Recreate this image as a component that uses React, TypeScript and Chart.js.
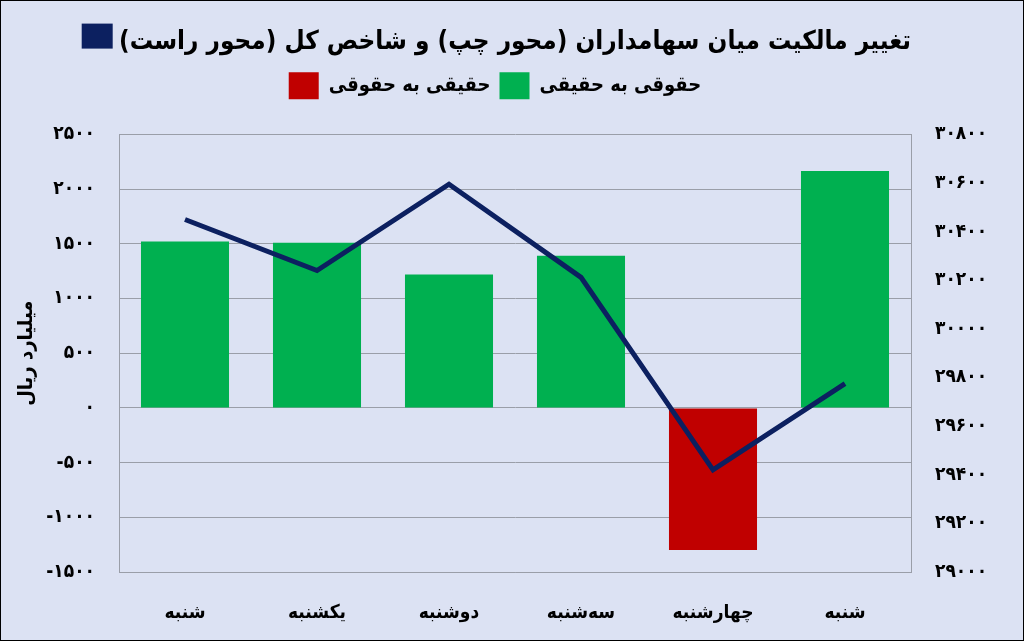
import React, { useEffect, useRef } from "react";
import { Chart, registerables } from "chart.js";

Chart.register(...registerables);

const days = ["شنبه", "یکشنبه", "دوشنبه", "سه‌شنبه", "چهارشنبه", "شنبه"];
// حقوقی به حقیقی (green) and حقیقی به حقوقی (red), billion rials
const legalToReal = [1520, 1510, 1220, 1390, null, 2165];
const realToLegal = [null, null, null, null, -1300, null];
// شاخص کل
const indexValues = [304500, 302400, 305950, 302120, 294200, 297750];

const leftTickLabels = ["-۱۵۰۰", "-۱۰۰۰", "-۵۰۰", "۰", "۵۰۰", "۱۰۰۰", "۱۵۰۰", "۲۰۰۰", "۲۵۰۰"];
const rightTickLabels = [
  "۲۹۰۰۰۰", "۲۹۲۰۰۰", "۲۹۴۰۰۰", "۲۹۶۰۰۰", "۲۹۸۰۰۰",
  "۳۰۰۰۰۰", "۳۰۲۰۰۰", "۳۰۴۰۰۰", "۳۰۶۰۰۰", "۳۰۸۰۰۰",
];

const titleText = "تغییر مالکیت میان سهامداران (محور چپ) و شاخص کل (محور راست)";
const FONT = "'DejaVu Sans Condensed', 'DejaVu Sans', sans-serif";
const NAVY = "#0c2060";
const GRID = "#9a9ea8";
const TITLE_SIZE = 26;

// draws the navy legend square next to the title, as in the original
const titleBoxPlugin = {
  id: "titleBox",
  afterDraw(chart: any) {
    const t = chart.titleBlock;
    if (!t) return;
    const ctx = chart.ctx;
    ctx.save();
    ctx.font = `bold ${TITLE_SIZE}px ${FONT}`;
    const w = ctx.measureText(titleText).width;
    const cx = t.left + t.width / 2;
    const cy = t.top + 26 + (TITLE_SIZE * 1.2) / 2;
    ctx.fillStyle = NAVY;
    ctx.fillRect(cx - w / 2 - 35, cy - 19, 31, 25);
    ctx.restore();
  },
};

export default function App() {
  const canvasRef = useRef<HTMLCanvasElement | null>(null);
  const chartRef = useRef<Chart | null>(null);

  useEffect(() => {
    document.body.style.margin = "0";
    if (!canvasRef.current) return;
    if (chartRef.current) chartRef.current.destroy();
    const ctx = canvasRef.current.getContext("2d");
    if (!ctx) return;

    chartRef.current = new Chart(ctx, {
      type: "bar",
      data: {
        labels: days,
        datasets: [
          {
            type: "line",
            label: titleText,
            data: indexValues,
            yAxisID: "y1",
            borderColor: NAVY,
            backgroundColor: NAVY,
            borderWidth: 5,
            pointRadius: 0,
            tension: 0,
          } as any,
          {
            label: "حقوقی به حقیقی",
            data: legalToReal,
            yAxisID: "y",
            backgroundColor: "#00b050",
            categoryPercentage: 0.667,
            barPercentage: 1,
          },
          {
            label: "حقیقی به حقوقی",
            data: realToLegal,
            yAxisID: "y",
            backgroundColor: "#c00000",
            categoryPercentage: 0.667,
            barPercentage: 1,
          },
        ],
      },
      plugins: [titleBoxPlugin],
      options: {
        animation: false,
        responsive: true,
        maintainAspectRatio: false,
        layout: { padding: { top: 0, right: 34, bottom: 0, left: 0 } },
        plugins: {
          title: {
            display: true,
            text: titleText,
            color: "#000",
            fullSize: false,
            font: { family: FONT, size: TITLE_SIZE, weight: "bold" },
            padding: { top: 26, bottom: 5 },
          },
          // empty block under the legend, keeps the gap above the plot
          subtitle: {
            display: true,
            text: " ",
            weight: 500,
            font: { size: 1 },
            padding: { top: 0, bottom: 24 },
          } as any,
          legend: {
            position: "top",
            labels: {
              color: "#000",
              font: { family: FONT, size: 20, weight: "bold" },
              boxWidth: 30,
              boxHeight: 27,
              padding: 9,
              filter: (item) => item.datasetIndex !== 0,
              sort: (a, b) => (b.datasetIndex ?? 0) - (a.datasetIndex ?? 0),
            },
          },
          tooltip: { enabled: false },
        },
        scales: {
          x: {
            stacked: true,
            grid: { display: false },
            border: { display: true, color: GRID },
            ticks: {
              color: "#000",
              font: { family: FONT, size: 19, weight: "bold" },
              padding: 22,
            },
            afterFit: (scale: any) => {
              scale.height = 68;
            },
          },
          y: {
            position: "left",
            min: -1500,
            max: 2500,
            grid: { color: GRID, drawTicks: false },
            border: { display: true, color: GRID },
            ticks: {
              stepSize: 500,
              color: "#000",
              font: { family: FONT, size: 19, weight: "bold" },
              padding: 24,
              callback: (_v, i) => leftTickLabels[i],
            },
            title: {
              display: true,
              text: "میلیارد ریال",
              color: "#000",
              font: { family: FONT, size: 20, weight: "bold" },
              padding: { top: 14, bottom: 4 },
            },
            afterFit: (scale: any) => {
              scale.width = 118;
            },
          },
          y1: {
            position: "right",
            min: 290000,
            max: 308000,
            grid: { display: false, drawTicks: false },
            border: { display: true, color: GRID },
            ticks: {
              stepSize: 2000,
              color: "#000",
              font: { family: FONT, size: 19, weight: "bold" },
              padding: 24,
              callback: (_v, i) => rightTickLabels[i],
            },
            afterFit: (scale: any) => {
              scale.width = 78;
            },
          },
        },
      },
    });

    return () => {
      if (chartRef.current) {
        chartRef.current.destroy();
        chartRef.current = null;
      }
    };
  }, []);

  return (
    <div
      style={{
        width: 1024,
        height: 641,
        boxSizing: "border-box",
        border: "1px solid #000",
        background: "#dce2f3",
        position: "relative",
      }}
    >
      <canvas ref={canvasRef} />
    </div>
  );
}
